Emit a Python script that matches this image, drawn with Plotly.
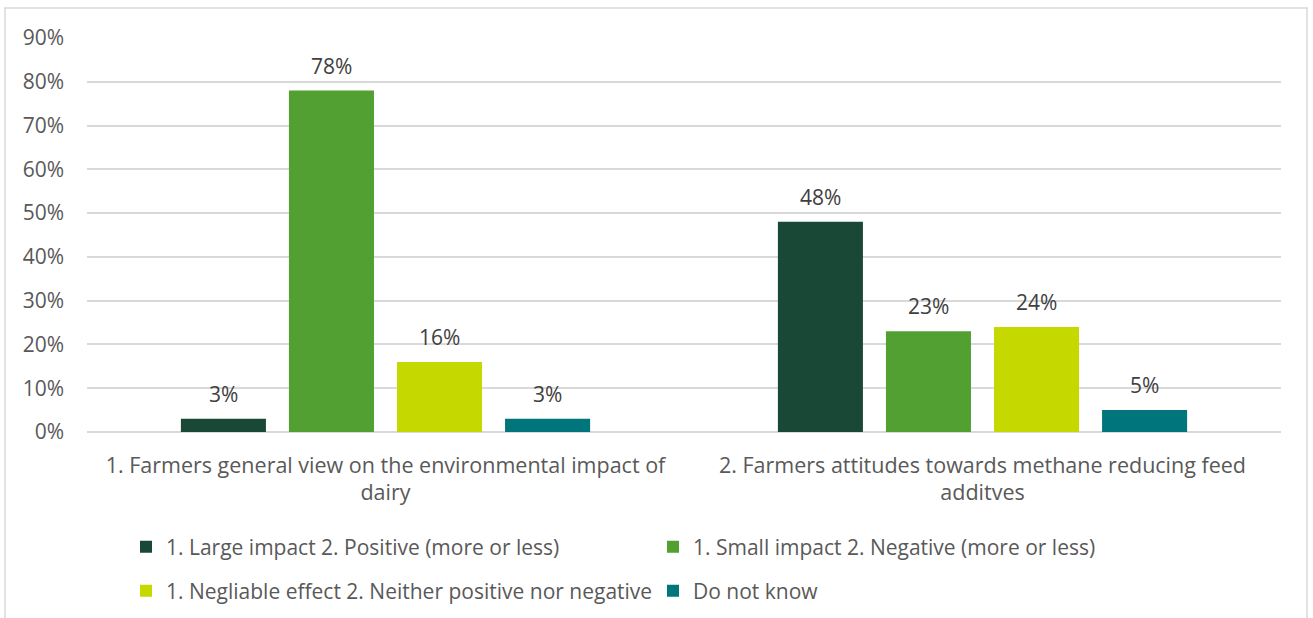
import plotly.graph_objects as go

categories = [
    "1. Farmers general view on the environmental impact of<br>dairy",
    "2. Farmers attitudes towards methane reducing feed<br>additves",
]
series_names = [
    "1. Large impact 2. Positive (more or less)",
    "1. Small impact 2. Negative (more or less)",
    "1. Negliable effect 2. Neither positive nor negative",
    "Do not know",
]
large_pos = [0.03, 0.48]
small_neg = [0.78, 0.23]
negl_neither = [0.16, 0.24]
dont_know = [0.03, 0.05]
series_values = [large_pos, small_neg, negl_neither, dont_know]
colors = ["#1a4836", "#52a032", "#c5d800", "#00757c"]
y_ticks = [0, 0.1, 0.2, 0.3, 0.4, 0.5, 0.6, 0.7, 0.8, 0.9]
y_tick_labels = ["0%", "10%", "20%", "30%", "40%", "50%", "60%", "70%", "80%", "90%"]

FONT = "Open Sans"
FS = 21
BARGAP = 0.276
BARGROUPGAP = 0.213

fig = go.Figure()
legends = ["legend", "legend", "legend2", "legend2"]
for name, vals, col, lg in zip(series_names, series_values, colors, legends):
    fig.add_trace(go.Bar(
        x=categories, y=vals, name=name, marker_color=col, marker_line_width=0,
        legend=lg,
    ))

# data labels as annotations above each bar
n = len(series_values)
slot = (1 - BARGAP) / n
annotations = []
for i, vals in enumerate(series_values):
    for j, v in enumerate(vals):
        annotations.append(dict(
            x=j + (i - (n - 1) / 2) * slot, y=v, xref="x", yref="y",
            text=f"{round(v*100)}%", showarrow=False, yanchor="middle", yshift=25,
            font=dict(family=FONT, size=FS, color="#404040"),
        ))

L, R, T, B = 87, 1281, 38, 432
W, H = 1313, 618
pw, ph = R - L, B - T

def px2paper_x(x):
    return (x - L) / pw

def px2paper_y(y):
    return (B - y) / ph

leg_common = dict(orientation="h", xanchor="left", yanchor="middle",
                  entrywidth=482, entrywidthmode="pixels",
                  font=dict(family=FONT, color="#595959", size=FS), itemwidth=30,
                  bgcolor="rgba(0,0,0,0)")

fig.update_layout(
    width=W, height=H,
    margin=dict(l=L, r=W - R, t=T, b=H - B, pad=0, autoexpand=False),
    paper_bgcolor="white", plot_bgcolor="white",
    font=dict(family=FONT, color="#595959", size=FS),
    barmode="group", bargap=BARGAP, bargroupgap=BARGROUPGAP,
    showlegend=True,
    legend=dict(x=px2paper_x(126), y=px2paper_y(547), **leg_common),
    legend2=dict(x=px2paper_x(126), y=px2paper_y(591), **leg_common),
    xaxis=dict(showgrid=False, showline=False, ticks="", tickfont=dict(size=21.5, color="#595959"),
               ticklabelstandoff=18, automargin=False),
    yaxis=dict(range=[0, 0.9], tickvals=y_ticks, ticktext=y_tick_labels, showgrid=True,
               gridcolor="#d9d9d9", gridwidth=1.5, zeroline=True, zerolinecolor="#d9d9d9",
               zerolinewidth=1.5, showline=False, ticks="", ticklabelstandoff=22,
               tickfont=dict(size=FS, color="#595959"), automargin=False),
    annotations=annotations,
    shapes=[dict(type="rect", xref="paper", yref="paper",
                 x0=px2paper_x(5), x1=px2paper_x(1307), y0=px2paper_y(640), y1=px2paper_y(8),
                 line=dict(color="#d9d9d9", width=1.5), fillcolor="rgba(0,0,0,0)", layer="below")],
)

fig.write_html("out.html")
